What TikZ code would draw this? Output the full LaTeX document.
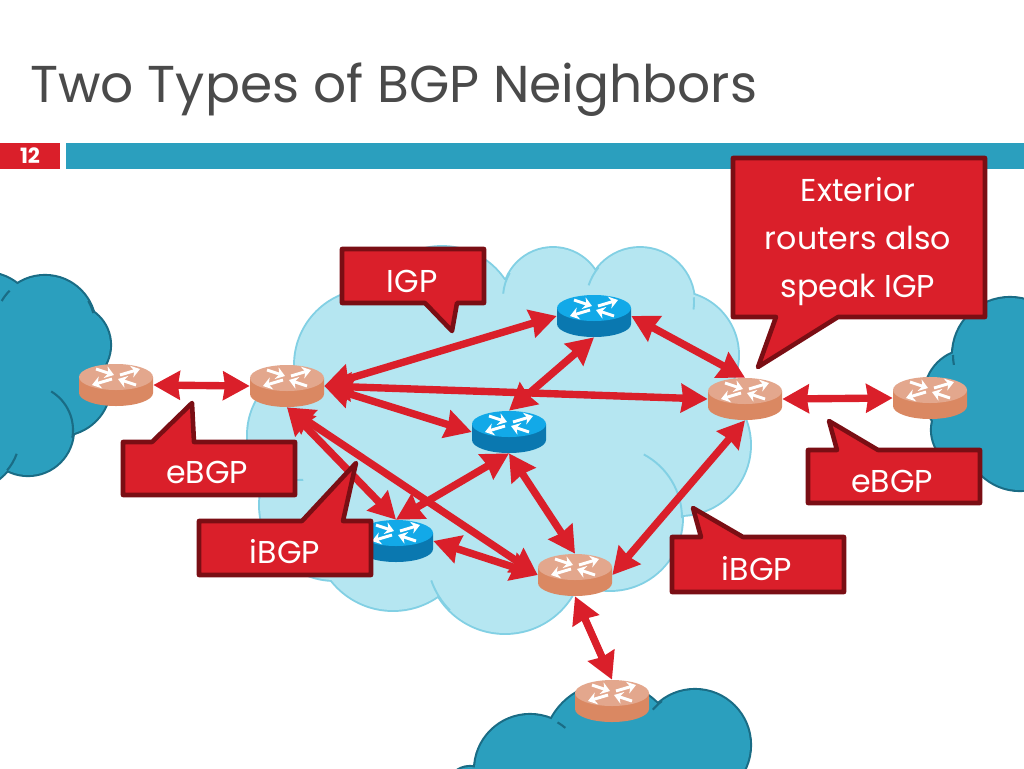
\documentclass[tikz,border=0pt]{standalone}
\usepackage{fontspec}
\setmainfont{Poppins}
\usetikzlibrary{arrows.meta,shapes.geometric}
\definecolor{slidered}{HTML}{DA1F2A}
\definecolor{darkred}{HTML}{7A0E14}
\definecolor{teal}{HTML}{2B9FBE}
\definecolor{tealline}{HTML}{1A6C85}
\definecolor{pale}{HTML}{B5E6F1}
\definecolor{paleline}{HTML}{82D0E4}
\definecolor{peachtop}{HTML}{E3A78D}
\definecolor{peachside}{HTML}{DA8862}
\definecolor{bluetop}{HTML}{12A9E8}
\definecolor{blueside}{HTML}{0A78B0}
\definecolor{titlegrey}{HTML}{4A4A4A}
\begin{document}
\begin{tikzpicture}[x=0.02cm,y=0.02cm]
\tikzstyle{every node}+=[inner sep=0pt]
\tikzstyle{routernode}=[ellipse,minimum width=42.1pt,minimum height=23.9pt]
\tikzstyle{link}=[draw=slidered,line width=4.2pt,{Stealth[length=15pt,width=16pt,inset=1pt]}-{Stealth[length=15pt,width=16pt,inset=1pt]}]
\tikzstyle{callout}=[fill=slidered,draw=darkred,line width=2.6pt,line join=round]
\tikzstyle{calltext}=[anchor=base,text=white,font=\fontsize{18}{22}\selectfont]
\tikzstyle{glyph}=[white,line width=1.7pt,-{Stealth[length=5pt,width=7pt]}]
\clip (0,0) rectangle (1024,-768);
\fill [white] (0,0) rectangle (1024,-768);
\node [anchor=base west,text=titlegrey,font=\fontsize{29.5}{36}\selectfont] (title) at (30,-102) {Two Types of BGP Neighbors};
\fill [slidered] (0,-143) rectangle (60,-169);
\fill [teal] (66,-143) rectangle (1024,-169);
\node [text=white,font=\fontsize{12}{14}\selectfont\bfseries] (slideno) at (30,-156) {12};
\foreach \x/\y/\r in {-15/325/52,45/326/50,70/345/40,60/385/50,28/430/45,-35/435/55,0/380/70}
  \draw [tealline,line width=2.4pt] (\x,-\y) circle (\r);
\foreach \x/\y/\r in {-15/325/52,45/326/50,70/345/40,60/385/50,28/430/45,-35/435/55,0/380/70}
  \fill [teal] (\x,-\y) circle (\r);
\foreach \x/\y/\r in {1010/355/57,970/395/45,970/430/38,1020/435/55,1000/400/50}
  \draw [tealline,line width=2.4pt] (\x,-\y) circle (\r);
\foreach \x/\y/\r in {1010/355/57,970/395/45,970/430/38,1020/435/55,1000/400/50}
  \fill [teal] (\x,-\y) circle (\r);
\foreach \x/\y/\r in {530/770/55,610/750/66,695/745/55,470/790/23}
  \draw [tealline,line width=2.4pt] (\x,-\y) circle (\r);
\foreach \x/\y/\r in {530/770/55,610/750/66,695/745/55,470/790/23}
  \fill [teal] (\x,-\y) circle (\r);
\foreach \x/\y/\r in {370/365/75,442/322/75,553/298/50,640/302/54,675/355/63,680/445/70,610/518/72,505/555/78,393/532/78,318/435/70,335/505/75,510/430/150}
  \draw [paleline,line width=2.2pt] (\x,-\y) circle (\r);
\foreach \x/\y/\r in {370/365/75,442/322/75,553/298/50,640/302/54,675/355/63,680/445/70,610/518/72,505/555/78,393/532/78,318/435/70,335/505/75,510/430/150}
  \fill [pale] (\x,-\y) circle (\r);
\draw [paleline,line width=1.1pt] (553,-298) ++(175:50) arc (175:150:50);
\draw [paleline,line width=1.1pt] (640,-302) ++(162:54) arc (162:140:54);
\draw [paleline,line width=1.1pt] (640,-302) ++(5:54) arc (5:-8:54);
\draw [paleline,line width=1.1pt] (610,-518) ++(62:72) arc (62:0:72);
\draw [paleline,line width=1.1pt] (505,-555) ++(199:78) arc (199:225:78);
\draw [paleline,line width=1.1pt] (298,-405) ++(266:75) arc (266:274:75);
\draw [tealline,line width=1.2pt] (45,-326) ++(135:50) arc (135:150:50);
\draw [tealline,line width=1.2pt] (45,-326) ++(30:50) arc (30:15:50);
\draw [tealline,line width=1.2pt] (28,-430) ++(59:45) arc (59:-10:45);
\draw [tealline,line width=1.2pt] (-35,-435) ++(-40:55) arc (-40:-20:55);
\draw [tealline,line width=1.2pt] (1010,-355) ++(180:57) arc (180:190:57);
\draw [tealline,line width=1.2pt] (530,-770) ++(60:55) arc (60:50:55);
\draw [tealline,line width=1.2pt] (695,-745) ++(127:55) arc (127:140:55);
\foreach \rname/\x/\y/\rtop/\rside in {extleft/116/385/peachtop/peachside,coreleft/287/386/peachtop/peachside,coreright/745/399/peachtop/peachside,extright/930/398/peachtop/peachside,coredown/575/575/peachtop/peachside,extdown/612/701/peachtop/peachside,bluehigh/594/316/bluetop/blueside,bluemid/509/432/bluetop/blueside,bluelow/396/541/bluetop/blueside}{
\begin{scope}[shift={(\x,-\y)}]
\node [routernode] (\rname) at (0,0) {};
\fill [\rside] (-37,8) -- (-37,-8) arc (180:360:37 and 13) -- (37,8) -- cycle;
\fill [\rtop] (0,8) ellipse (37 and 13);
\draw [glyph] (-20,16) -- (-2,10);
\draw [glyph] (4,10) -- (24,16);
\draw [glyph] (-4,6) -- (-24,0);
\draw [glyph] (20,0) -- (2,6);
\end{scope}
}
\draw [link] (extleft.east) -- (coreleft.west);
\draw [link] (coreleft.east) -- (bluehigh.west);
\draw [link] (coreleft.east) -- (coreright.west);
\draw [link] (coreleft.east) -- (bluemid.west);
\draw [link] (coreleft.south) -- (bluelow.north);
\draw [link] (coreleft.south) -- (coredown.west);
\draw [link] (bluehigh.south) -- (bluemid.north);
\draw [link] (bluehigh.east) -- (coreright.north);
\draw [link] (bluemid.south) -- (bluelow.north);
\draw [link] (bluemid.south) -- (coredown.north);
\draw [link] (bluelow.east) -- (coredown.west);
\draw [link] (coredown.east) -- (coreright.south);
\draw [link] (coredown.south) -- (extdown.north);
\draw [link] (coreright.east) -- (extright.west);
\draw [callout] (733,-158) -- (985,-158) -- (985,-317) -- (838,-317) -- (758,-367) -- (776,-317) -- (733,-317) -- cycle;
\draw [callout] (342,-249) -- (484,-249) -- (484,-303) -- (457,-303) -- (452,-331) -- (425,-303) -- (342,-303) -- cycle;
\draw [callout] (123,-442) -- (152,-442) -- (192,-403) -- (194,-442) -- (295,-442) -- (295,-495) -- (123,-495) -- cycle;
\draw [callout] (199,-521) -- (302,-521) -- (356,-463) -- (343,-521) -- (371,-521) -- (371,-575) -- (199,-575) -- cycle;
\draw [callout] (672,-537) -- (701,-537) -- (693,-508) -- (743,-537) -- (844,-537) -- (844,-592) -- (672,-592) -- cycle;
\draw [callout] (808,-450) -- (837,-450) -- (829,-421) -- (878,-450) -- (980,-450) -- (980,-503) -- (808,-503) -- cycle;
\node [calltext] (exta) at (858,-201) {Exterior};
\node [calltext] (extb) at (858,-249) {routers also};
\node [calltext] (extc) at (858,-297) {speak IGP};
\node [calltext] (igplabel) at (412,-292) {IGP};
\node [calltext] (ebgpleft) at (207,-483) {eBGP};
\node [calltext] (ibgpleft) at (285,-563) {iBGP};
\node [calltext] (ibgpright) at (757,-580) {iBGP};
\node [calltext] (ebgpright) at (892,-492) {eBGP};
\end{tikzpicture}
\end{document}
